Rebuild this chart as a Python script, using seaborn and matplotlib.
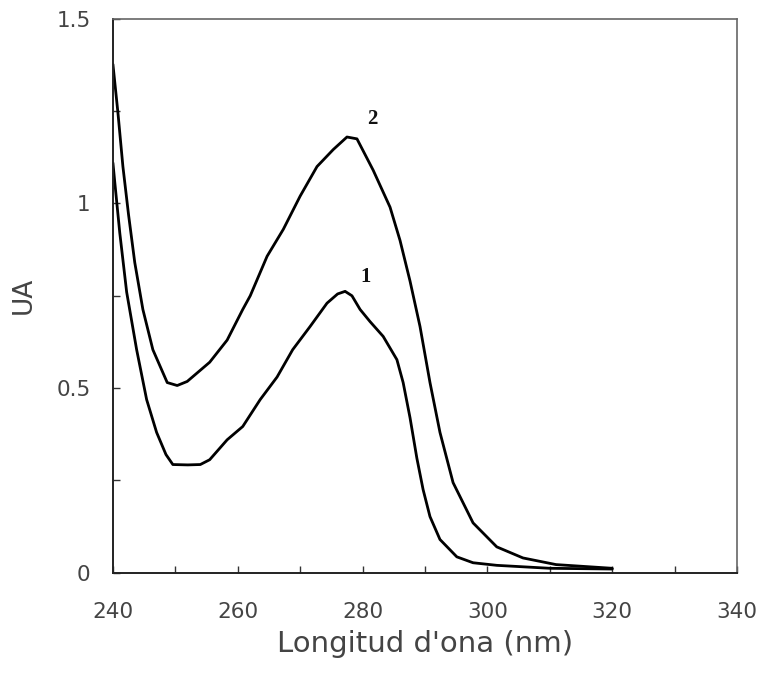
import matplotlib
matplotlib.use("Agg")
import matplotlib.pyplot as plt
import seaborn as sns
import pandas as pd
from matplotlib.ticker import MultipleLocator

# ---- data ----
wl1 = [240, 240.3, 241.1, 242.2, 243.8, 245.4, 247, 248.5, 249.6, 252, 254, 255.5,
       258.3, 260.8, 263.6, 266.3, 268.8, 271.6, 274.3, 276, 277.2, 278.3, 279.6,
       281.2, 283.3, 285.5, 286.5, 287.6, 288.7, 289.7, 290.8, 292.4, 295.1, 297.7,
       301.5, 310, 320]
ua1 = [1.11, 1.057, 0.92, 0.76, 0.604, 0.469, 0.38, 0.32, 0.293, 0.292, 0.293, 0.306,
       0.36, 0.396, 0.469, 0.53, 0.604, 0.667, 0.73, 0.755, 0.762, 0.75, 0.713,
       0.68, 0.64, 0.577, 0.515, 0.42, 0.31, 0.225, 0.152, 0.09, 0.043, 0.027,
       0.02, 0.012, 0.01]

wl2 = [240, 240.8, 241.6, 242.5, 243.5, 244.8, 246.4, 248.7, 250.3, 251.9, 255.5,
       258.3, 260.8, 262, 264.7, 267.3, 270, 272.7, 275.3, 277.5, 279.1, 281.7,
       284.4, 286, 287.6, 289.2, 290.8, 292.4, 294.5, 297.7, 301.5, 305.7, 311, 320]
ua2 = [1.377, 1.246, 1.10, 0.97, 0.84, 0.713, 0.604, 0.515, 0.507, 0.518, 0.57,
       0.63, 0.713, 0.75, 0.857, 0.93, 1.02, 1.10, 1.146, 1.18, 1.175, 1.09,
       0.99, 0.90, 0.79, 0.667, 0.515, 0.38, 0.244, 0.135, 0.07, 0.04, 0.022, 0.012]

series_names = ["1", "2"]
label_pos = {"1": (280.4, 0.80), "2": (281.5, 1.228)}

x_ticks = [240, 260, 280, 300, 320, 340]
y_ticks = [0, 0.5, 1, 1.5]
y_tick_labels = ["0", "0.5", "1", "1.5"]

df = pd.concat([
    pd.DataFrame({"wl": wl1, "ua": ua1, "serie": series_names[0]}),
    pd.DataFrame({"wl": wl2, "ua": ua2, "serie": series_names[1]}),
], ignore_index=True)

sns.set_style("ticks")
plt.rcParams["font.family"] = ["DejaVu Sans"]

fig = plt.figure(figsize=(7.63, 6.73), dpi=100)
ax = fig.add_axes([0.148, 0.149, 0.818, 0.823])

sns.lineplot(data=df, x="wl", y="ua", hue="serie", palette=["black", "black"],
             linewidth=2.0, legend=False, ax=ax, sort=True, estimator=None)

ax.set_xlim(240, 340)
ax.set_ylim(0, 1.5)
ax.set_xticks(x_ticks)
ax.set_xticklabels([str(t) for t in x_ticks])
ax.xaxis.set_minor_locator(MultipleLocator(10))
ax.set_yticks(y_ticks)
ax.set_yticklabels(y_tick_labels)
ax.yaxis.set_minor_locator(MultipleLocator(0.25))

ax.tick_params(axis="both", which="both", direction="in", length=5, width=1,
               color="#333333", labelsize=15.5, labelcolor="#444444",
               bottom=True, left=True, top=False, right=False)
ax.tick_params(axis="x", which="major", pad=21)
ax.tick_params(axis="y", which="major", pad=16)

for side in ["left", "bottom"]:
    ax.spines[side].set_color("#222222")
    ax.spines[side].set_linewidth(1.4)
for side in ["top", "right"]:
    ax.spines[side].set_color("#666666")
    ax.spines[side].set_linewidth(1.2)
    ax.spines[side].set_visible(True)

ax.set_xlabel("Longitud d'ona (nm)", fontsize=21, color="#444444", labelpad=6)
ax.set_ylabel("UA", fontsize=19, color="#444444", labelpad=14)

for name, (x, y) in label_pos.items():
    ax.text(x, y, name, fontsize=15, fontweight="bold", family="Liberation Serif",
            ha="center", va="center", color="#111111")

fig.savefig("out.png", dpi=100, facecolor="white")
